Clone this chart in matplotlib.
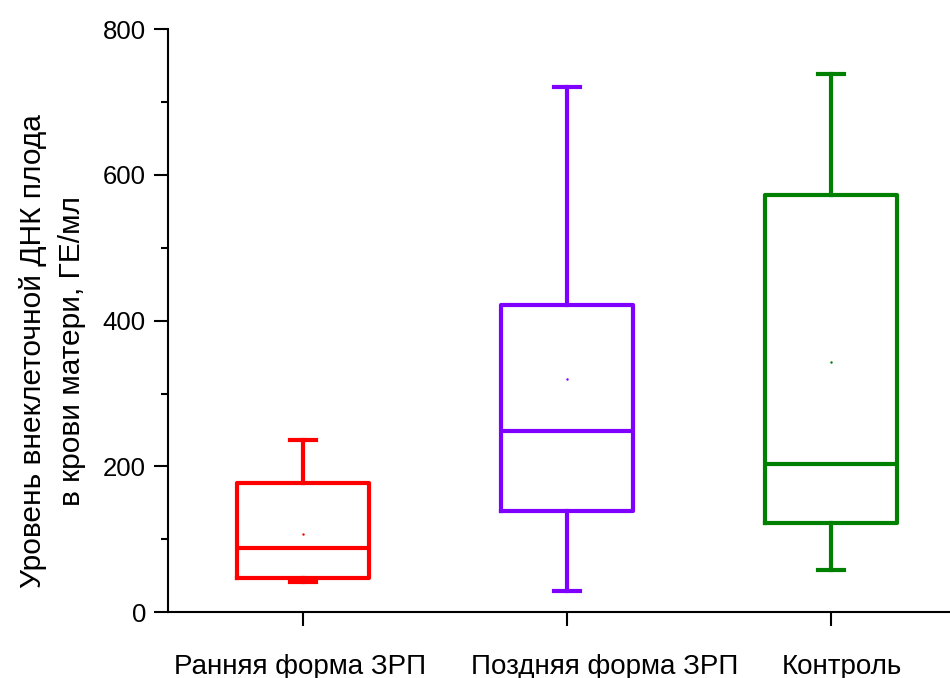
import matplotlib.pyplot as plt
import matplotlib.transforms as mtransforms
from matplotlib.ticker import MultipleLocator

plt.rcParams['font.family'] = ['Liberation Sans', 'DejaVu Sans']

groups = ["Ранняя форма ЗРП", "Поздняя форма ЗРП", "Контроль"]
colors = ["#ff0000", "#8000ff", "#008000"]
whisker_low = [41, 29, 58]
q1 = [47, 139, 123]
median = [88, 248, 203]
q3 = [177, 421, 572]
whisker_high = [236, 720, 738]
mean = [108, 320, 343]

stats = []
for i, g in enumerate(groups):
    stats.append({
        "label": g, "whislo": whisker_low[i], "q1": q1[i], "med": median[i],
        "q3": q3[i], "whishi": whisker_high[i], "mean": mean[i], "fliers": [],
    })

fig = plt.figure(figsize=(9.5, 6.78), dpi=100)
ax = fig.add_axes([0.177, 0.097, 0.823, 0.86])

positions = [1, 2, 3]
for i, s in enumerate(stats):
    c = colors[i]
    lw = 3
    ax.bxp([s], positions=[positions[i]], widths=0.5, showmeans=True,
           showfliers=False,
           boxprops=dict(color=c, linewidth=lw),
           whiskerprops=dict(color=c, linewidth=lw),
           capprops=dict(color=c, linewidth=lw),
           medianprops=dict(color=c, linewidth=lw),
           meanprops=dict(marker='s', markersize=0.7, markerfacecolor=c,
                          markeredgecolor=c),
           capwidths=0.1)

ax.set_xlim(0.49, 3.45)
ax.set_ylim(0, 800)
ax.set_xticks(positions)
ax.set_xticklabels(groups, fontsize=20)
ax.yaxis.set_major_locator(MultipleLocator(200))
ax.yaxis.set_minor_locator(MultipleLocator(100))
ax.tick_params(axis='y', which='major', length=10, width=1.5, labelsize=18.5,
               direction='out', pad=6)
ax.tick_params(axis='y', which='minor', length=5, width=1.5, direction='out')
ax.tick_params(axis='x', which='major', length=10, width=1.5, pad=20, direction='out')
for side in ['top', 'right']:
    ax.spines[side].set_visible(False)
for side in ['left', 'bottom']:
    ax.spines[side].set_linewidth(1.5)

# label offsets in pixels, as in the original layout
shifts = [-3, 38, 11]
for lbl, dx in zip(ax.get_xticklabels(), shifts):
    lbl.set_transform(lbl.get_transform() +
                      mtransforms.ScaledTranslation(dx / 100, 0, fig.dpi_scale_trans))

ax.set_ylabel("Уровень внеклеточной ДНК плода\nв крови матери, ГЕ/мл",
              fontsize=21.5, linespacing=1.5, labelpad=12)
ax.yaxis.set_label_coords(-0.105, 0.448)

fig.savefig("out.png", dpi=100)
